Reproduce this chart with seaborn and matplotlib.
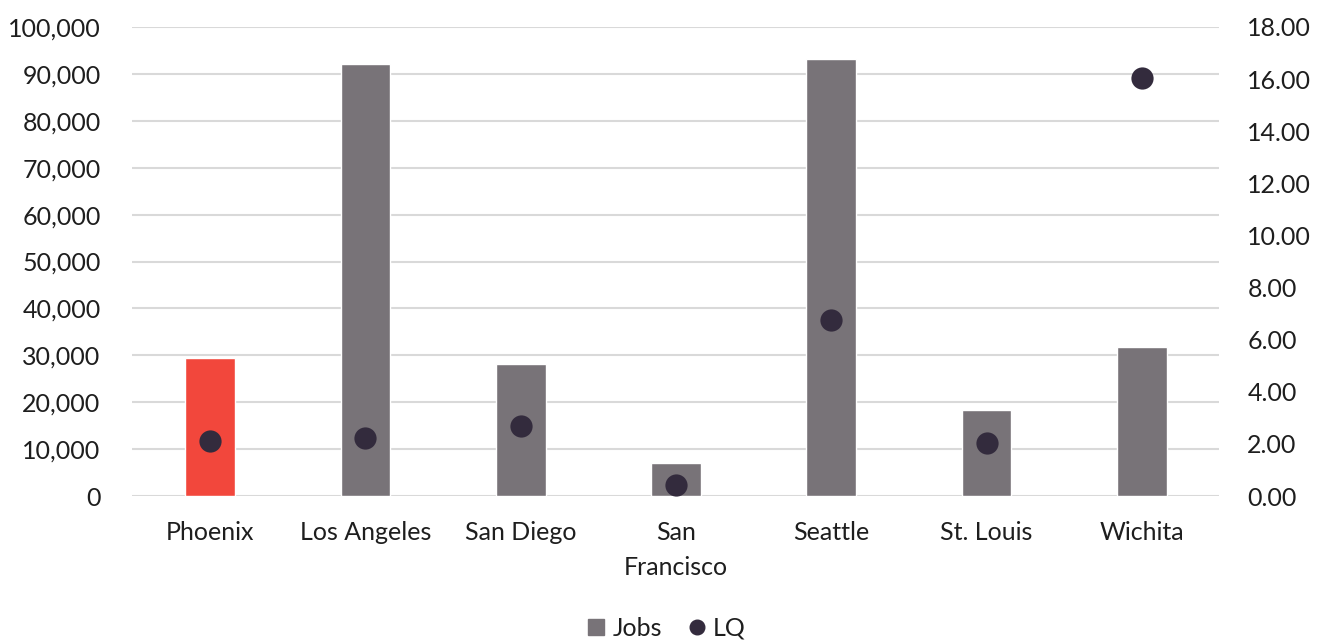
import matplotlib
matplotlib.use("Agg")
import matplotlib.pyplot as plt
import matplotlib.ticker as mticker
from matplotlib.lines import Line2D
import seaborn as sns
import pandas as pd

cities = ["Phoenix", "Los Angeles", "San Diego", "San\nFrancisco", "Seattle", "St. Louis", "Wichita"]
jobs = [29400, 92100, 28100, 7100, 93200, 18400, 31700]
lq = [2.11, 2.23, 2.69, 0.42, 6.75, 2.03, 16.04]

bar_grey = "#787378"
highlight = "#F2473C"
dot_color = "#332B3D"
grid_color = "#D9D9D9"
text_color = "#1E1E1E"

df = pd.DataFrame({"city": cities, "jobs": jobs, "lq": lq})

sns.set_theme(style="white")
plt.rcParams["font.family"] = ["Lato", "DejaVu Sans"]

fig = plt.figure(figsize=(13.3, 6.41), dpi=100)
ax = fig.add_axes([0.0996, 0.226, 0.8173, 0.732])

palette = [highlight] + [bar_grey] * (len(cities) - 1)
sns.barplot(data=df, x="city", y="jobs", hue="city", palette=palette,
            legend=False, width=0.32, saturation=1, ax=ax, zorder=2)

ax.set_ylim(0, 100000)
ax.yaxis.set_major_locator(mticker.MultipleLocator(10000))
ax.yaxis.set_major_formatter(mticker.FuncFormatter(lambda v, p: f"{int(v):,}"))
ax.grid(axis="y", color=grid_color, linewidth=1.5, zorder=0)
ax.set_axisbelow(True)
for s in ax.spines.values():
    s.set_visible(False)
ax.set_xlabel("")
ax.set_ylabel("")
ax.tick_params(axis="y", length=0, labelsize=18, colors=text_color, pad=23)
ax.tick_params(axis="x", length=0, labelsize=18, colors=text_color, pad=18)
for lbl in ax.get_xticklabels():
    lbl.set_linespacing(1.6)

ax2 = ax.twinx()
sns.stripplot(data=df, x="city", y="lq", jitter=False, color=dot_color,
              size=16, ax=ax2, zorder=3)
ax2.set_ylim(0, 18)
ax2.yaxis.set_major_locator(mticker.MultipleLocator(2))
ax2.yaxis.set_major_formatter(mticker.FormatStrFormatter("%.2f"))
for s in ax2.spines.values():
    s.set_visible(False)
ax2.set_ylabel("")
ax2.tick_params(axis="y", length=0, labelsize=18, colors=text_color, pad=20)

handles = [
    Line2D([], [], marker="s", linestyle="none", color=bar_grey, markersize=11.5, label="Jobs"),
    Line2D([], [], marker="o", linestyle="none", color=dot_color, markersize=10.5, label="LQ"),
]
fig.legend(handles=handles, loc="center", bbox_to_anchor=(0.5008, 0.02), ncol=2,
           frameon=False, fontsize=18, handlelength=0.8, handletextpad=0.25,
           columnspacing=1.0, labelcolor=text_color)

fig.savefig("out.png", dpi=100)
